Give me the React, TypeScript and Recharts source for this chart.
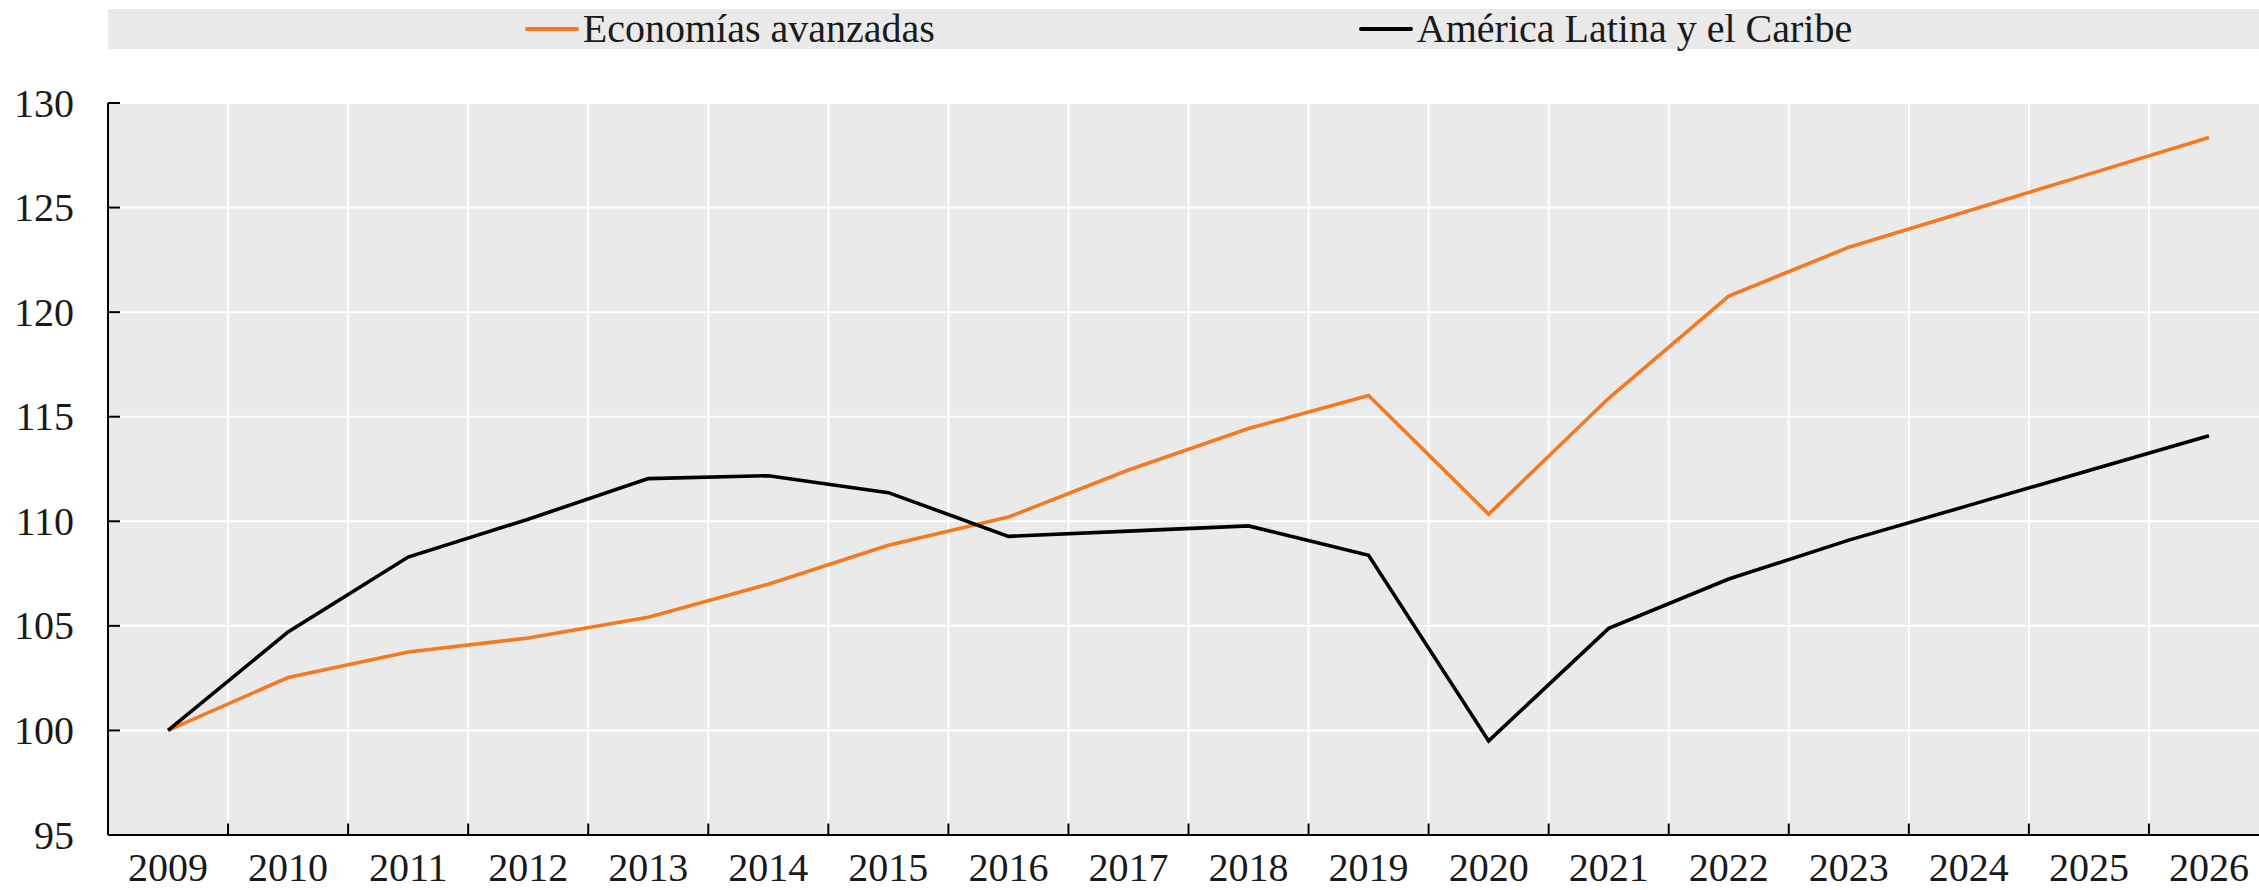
import React from 'react';
import { LineChart, Line, XAxis, YAxis, CartesianGrid, Legend, ReferenceLine } from 'recharts';

const years = [2009, 2010, 2011, 2012, 2013, 2014, 2015, 2016, 2017, 2018, 2019, 2020, 2021, 2022, 2023, 2024, 2025, 2026];
const advancedEconomies = [100, 102.53, 103.75, 104.42, 105.41, 106.99, 108.85, 110.2, 112.45, 114.44, 116.01, 110.34, 115.88, 120.77, 123.1, 124.85, 126.6, 128.35];
const latinAmerica = [100, 104.71, 108.29, 110.1, 112.04, 112.18, 111.37, 109.28, 109.53, 109.78, 108.37, 99.5, 104.88, 107.24, 109.1, 110.76, 112.43, 114.09];
const yTicks = [95, 100, 105, 110, 115, 120, 125, 130];
const seriesKeys = ['adv', 'lac'];
const seriesNames = ['Economías avanzadas', 'América Latina y el Caribe'];
const seriesColors = ['#F47920', '#000000'];

const data = years.map((year, i) => ({ year, adv: advancedEconomies[i], lac: latinAmerica[i] }));
const boundaries = years.slice(1).map((y) => y - 0.5);

const FONT = '"Liberation Serif", "Times New Roman", serif';
const TEXT = '#1a1a1a';
const BG = '#eaeaea';

const YTick = (props: any) => {
  const { x, y, payload } = props;
  return (
    <g>
      <line x1={x + 34} x2={x + 46} y1={y} y2={y} stroke="#000" strokeWidth={2} />
      <text x={x} y={y} dy="0.34em" textAnchor="end" fill={TEXT} fontSize={40} fontFamily={FONT}>
        {payload.value}
      </text>
    </g>
  );
};

const renderLegend = () => (
  <div style={{ height: 94 }}>
    <div
      style={{
        height: 40,
        background: BG,
        display: 'flex',
        justifyContent: 'center',
        alignItems: 'center',
        gap: 424,
      }}
    >
      {seriesNames.map((name, i) => (
        <div key={name} style={{ display: 'flex', alignItems: 'center' }}>
          <span
            style={{
              display: 'inline-block',
              width: 54,
              height: 4,
              borderRadius: 2,
              background: seriesColors[i],
              marginRight: 4,
            }}
          />
          <span style={{ fontFamily: FONT, fontSize: 40, lineHeight: '40px', color: TEXT, whiteSpace: 'nowrap' }}>{name}</span>
        </div>
      ))}
    </div>
  </div>
);

export default function App() {
  return (
    <div style={{ position: 'absolute', left: 0, top: 0, width: 2259, height: 890, overflow: 'hidden', background: '#fff' }}>
      <LineChart width={2290} height={890} data={data} margin={{ top: 9, right: 21, bottom: 0, left: 0 }}>
        <CartesianGrid
          fill={BG}
          fillOpacity={1}
          stroke="#ffffff"
          strokeWidth={2}
          verticalValues={boundaries}
          horizontalValues={yTicks}
        />
        <XAxis
          dataKey="year"
          type="number"
          domain={[2008.5, 2026.5]}
          ticks={years}
          interval={0}
          tickLine={false}
          tickSize={0}
          tickMargin={18}
          height={55}
          axisLine={{ stroke: '#000', strokeWidth: 2 }}
          tick={{ fill: TEXT, fontSize: 40, fontFamily: FONT }}
        />
        <YAxis
          domain={[95, 130]}
          ticks={yTicks}
          interval={0}
          width={108}
          tickLine={false}
          tickSize={0}
          tickMargin={34}
          axisLine={{ stroke: '#000', strokeWidth: 2 }}
          tick={<YTick />}
        />
        <Legend verticalAlign="top" align="left" content={renderLegend} wrapperStyle={{ top: 9, left: 108, width: 2161, height: 94 }} />
        {boundaries.map((b) => (
          <ReferenceLine
            key={b}
            segment={[{ x: b, y: 95 }, { x: b, y: 95.55 }]}
            stroke="#000"
            strokeWidth={2}
          />
        ))}
        {seriesKeys.map((k, i) => (
          <Line
            key={k}
            dataKey={k}
            name={seriesNames[i]}
            stroke={seriesColors[i]}
            strokeWidth={3.6}
            dot={false}
            activeDot={false}
            isAnimationActive={false}
          />
        ))}
      </LineChart>
    </div>
  );
}
